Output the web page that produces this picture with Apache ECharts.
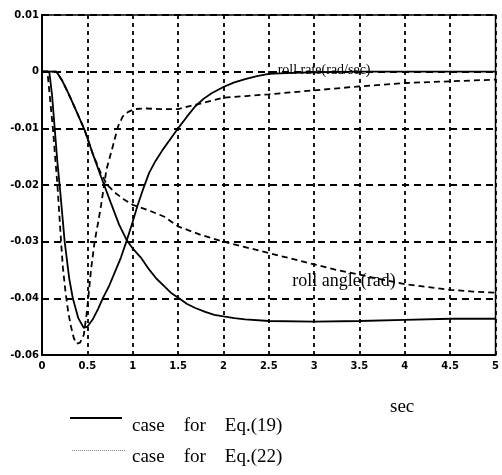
<!DOCTYPE html>
<html>
<head>
<meta charset="utf-8">
<script src="https://cdn.jsdelivr.net/npm/echarts@6/dist/echarts.min.js"></script>
<style>
html,body{margin:0;padding:0;background:#fff;}
#chart{width:502px;height:475px;}
</style>
</head>
<body>
<div id="chart"></div>
<script>
// Tick labels
var xTickLabels = ['0','0.5','1','1.5','2','2.5','3','3.5','4','4.5','5'];
var yTickLabels = ['0.01','0','-0.01','-0.02','-0.03','-0.04','-0.06'];

// Legend entries
var legendNames = ['case for Eq.(19)', 'case for Eq.(22)'];

// Roll rate, case for Eq.(19) (solid)
var rr19T = [0, 0.08, 0.11, 0.14, 0.17, 0.2, 0.25, 0.3, 0.34, 0.4, 0.46, 0.5, 0.56, 0.62, 0.67, 0.74, 0.8, 0.87, 0.93, 1.0, 1.05, 1.12, 1.18, 1.25, 1.33, 1.42, 1.5, 1.6, 1.69, 1.78, 1.87, 2.0, 2.12, 2.24, 2.37, 2.5, 2.75, 3.0, 3.5, 4.0, 4.5, 5.0];
var rr19V = [0, 0, -0.004, -0.010, -0.016, -0.021, -0.030, -0.0365, -0.040, -0.0435, -0.0452, -0.0450, -0.0437, -0.0418, -0.040, -0.0378, -0.0355, -0.0328, -0.030, -0.0265, -0.0238, -0.0205, -0.0179, -0.0158, -0.0138, -0.0118, -0.010, -0.0079, -0.0061, -0.0048, -0.0038, -0.0027, -0.0019, -0.0013, -0.0008, -0.0004, -0.0002, -0.0001, 0, 0, 0, 0];

// Roll rate, case for Eq.(22) (dashed)
var rr22T = [0, 0.06, 0.09, 0.12, 0.15, 0.17, 0.19, 0.21, 0.23, 0.26, 0.29, 0.32, 0.35, 0.38, 0.42, 0.46, 0.49, 0.51, 0.54, 0.58, 0.62, 0.65, 0.71, 0.78, 0.84, 0.89, 0.95, 1.02, 1.15, 1.3, 1.5, 1.7, 2.0, 2.25, 2.5, 3.0, 3.5, 4.0, 4.5, 5.0];
var rr22V = [0, 0, -0.005, -0.010, -0.016, -0.020, -0.025, -0.030, -0.0345, -0.039, -0.0425, -0.045, -0.047, -0.048, -0.0478, -0.0465, -0.043, -0.040, -0.035, -0.030, -0.0265, -0.0237, -0.0173, -0.0132, -0.0096, -0.0079, -0.0071, -0.0066, -0.0065, -0.0066, -0.0066, -0.0058, -0.0046, -0.0043, -0.0040, -0.0033, -0.0026, -0.0020, -0.0017, -0.0014];

// Roll angle, case for Eq.(19) (solid)
var ra19T = [0, 0.16, 0.22, 0.29, 0.38, 0.47, 0.56, 0.65, 0.76, 0.85, 0.93, 1.0, 1.09, 1.18, 1.26, 1.35, 1.42, 1.51, 1.6, 1.69, 1.8, 1.9, 2.0, 2.12, 2.24, 2.5, 3.0, 3.5, 4.0, 4.5, 5.0];
var ra19V = [0, 0, -0.0015, -0.0038, -0.007, -0.0103, -0.0145, -0.0185, -0.0232, -0.027, -0.0296, -0.0312, -0.0328, -0.0349, -0.0365, -0.0379, -0.039, -0.040, -0.041, -0.0417, -0.0424, -0.0429, -0.0432, -0.0435, -0.0437, -0.044, -0.0441, -0.044, -0.0438, -0.0436, -0.0436];

// Roll angle, case for Eq.(22) (dashed)
var ra22T = [0, 0.16, 0.22, 0.29, 0.38, 0.47, 0.56, 0.65, 0.72, 0.8, 0.9, 1.0, 1.18, 1.35, 1.5, 1.75, 2.0, 2.25, 2.5, 2.75, 3.0, 3.25, 3.5, 3.75, 4.0, 4.25, 4.5, 4.75, 5.0];
var ra22V = [0, 0, -0.0015, -0.0038, -0.007, -0.0103, -0.0145, -0.0180, -0.0200, -0.0213, -0.0225, -0.0235, -0.0245, -0.0256, -0.0273, -0.0288, -0.030, -0.031, -0.032, -0.033, -0.034, -0.035, -0.0358, -0.0367, -0.0375, -0.038, -0.0385, -0.0388, -0.039];

function zip(t, v) { return t.map(function (x, i) { return [x, v[i]]; }); }
function spaced(s) { return s.replace(/ /g, '\u00a0\u00a0\u00a0\u00a0'); }

var serif = '"Liberation Serif", "DejaVu Serif", serif';
var solidStyle = { color: '#000', width: 1.8, type: 'solid' };
var dashStyle = { color: '#000', width: 1.8, type: [6, 4] };

var chart = echarts.init(document.getElementById('chart'), null, { renderer: 'canvas' });
chart.setOption({
  animation: false,
  backgroundColor: '#fff',
  color: ['#000'],
  grid: { left: 42, right: 3, top: 15, bottom: 120, show: true, borderColor: '#000', borderWidth: 1.5 },
  xAxis: {
    type: 'value', min: 0, max: 5, interval: 0.5,
    axisLine: { show: true, onZero: false, lineStyle: { color: '#000', width: 2 } },
    axisTick: { show: false },
    axisLabel: {
      color: '#000', fontFamily: '"DejaVu Sans", sans-serif', fontWeight: 'bold', fontSize: 10, margin: 6,
      formatter: function (v) { return xTickLabels[Math.round(v / 0.5)]; }
    },
    splitLine: { show: true, lineStyle: { color: '#000', width: 1.8, type: [4, 4] } }
  },
  yAxis: {
    type: 'value', min: -0.05, max: 0.01, interval: 0.01,
    axisLine: { show: true, onZero: false, lineStyle: { color: '#000', width: 2 } },
    axisTick: { show: false },
    axisLabel: {
      color: '#000', fontFamily: '"DejaVu Sans", sans-serif', fontWeight: 'bold', fontSize: 10, margin: 3,
      formatter: function (v) { return yTickLabels[Math.round((0.01 - v) / 0.01)]; }
    },
    splitLine: { show: true, lineStyle: { color: '#000', width: 1.8, type: [7, 5] } }
  },
  graphic: [
    { type: 'text', left: 390, top: 398, style: { text: 'sec', font: '19px ' + serif, fill: '#000' } },
    { type: 'line', shape: { x1: 70, y1: 418, x2: 122, y2: 418 }, style: { stroke: '#000', lineWidth: 2 } },
    { type: 'text', left: 132, top: 417, style: { text: spaced(legendNames[0]), font: '19px ' + serif, fill: '#000' } },
    { type: 'line', shape: { x1: 72, y1: 450.5, x2: 125, y2: 450.5 }, style: { stroke: '#888', lineWidth: 1, lineDash: [1, 1] } },
    { type: 'text', left: 132, top: 448, style: { text: spaced(legendNames[1]), font: '19px ' + serif, fill: '#000' } }
  ],
  series: [
    {
      name: legendNames[0], type: 'line', symbol: 'none', data: zip(rr19T, rr19V), lineStyle: solidStyle,
      markPoint: {
        symbol: 'circle', symbolSize: 1, itemStyle: { color: 'rgba(0,0,0,0)' },
        label: { show: true, position: 'inside', color: '#000', fontFamily: serif, fontSize: 14 },
        data: [{ coord: [3.11, 0.0003], value: 'roll rate(rad/sec)', label: { formatter: 'roll rate(rad/sec)' } }]
      }
    },
    { name: legendNames[1], type: 'line', symbol: 'none', data: zip(rr22T, rr22V), lineStyle: dashStyle },
    { name: legendNames[0], type: 'line', symbol: 'none', data: zip(ra19T, ra19V), lineStyle: solidStyle },
    {
      name: legendNames[1], type: 'line', symbol: 'none', data: zip(ra22T, ra22V), lineStyle: dashStyle,
      markPoint: {
        symbol: 'circle', symbolSize: 1, itemStyle: { color: 'rgba(0,0,0,0)' },
        label: { show: true, position: 'inside', color: '#000', fontFamily: serif, fontSize: 18 },
        data: [{ coord: [3.33, -0.037], value: 'roll angle(rad)', label: { formatter: 'roll angle(rad)' } }]
      }
    }
  ]
});
</script>
</body>
</html>
